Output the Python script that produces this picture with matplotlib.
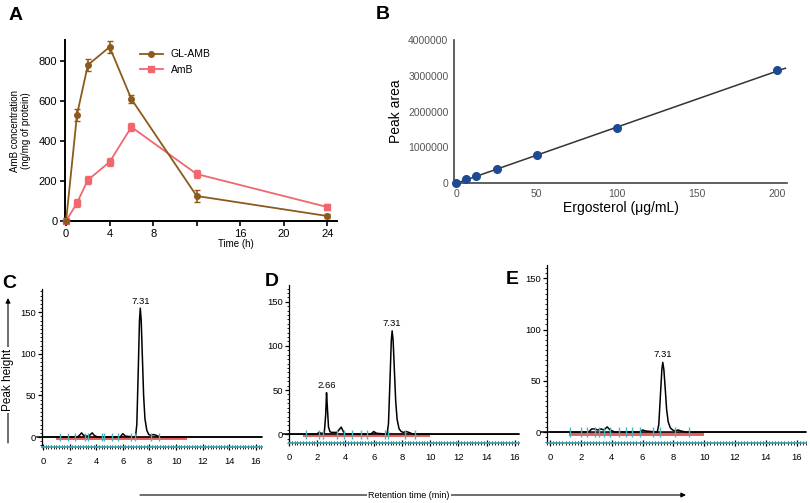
import matplotlib

matplotlib.use("Agg")
import matplotlib.pyplot as plt
import numpy as np
from matplotlib.lines import Line2D
from matplotlib.ticker import MultipleLocator

plt.rcParams["font.family"] = ["Liberation Sans", "DejaVu Sans"]

W, H = 810, 503

# --- A: AmB concentration over time
TIME_H = [0, 1, 2, 4, 6, 12, 24]
GL_AMB = [0, 530, 780, 870, 610, 125, 25]
GL_AMB_ERR = [0, 30, 28, 30, 22, 30, 8]
AMB = [0, 90, 205, 295, 470, 235, 70]
AMB_ERR = [0, 18, 18, 22, 20, 22, 15]
A_XTICKS = [0, 4, 8, 12, 16, 20, 24]
A_XLABELS = ["0", "4", "8", "", "16", "20", "24"]

# --- B: ergosterol calibration
ERGO_CONC = [0, 6.25, 12.5, 25, 50, 100, 200]
ERGO_AREA = [0, 100000, 190000, 390000, 770000, 1530000, 3150000]

# --- C, D, E: chromatograms (time in min, height)
C_TIME = [0, 2.6, 2.8, 2.9, 3.05, 3.3, 3.5, 3.7, 3.85, 4.1, 5.8, 6.0, 6.2, 6.95,
          7.05, 7.15, 7.25, 7.31, 7.38, 7.47, 7.56, 7.66, 7.8, 7.95, 8.1, 8.3, 8.5, 8.8, 16.5]
C_HEIGHT = [0, 0, 3, 5, 2, 1, 2, 5, 2, 0, 0, 4, 1, 0,
            15, 75, 140, 155, 140, 95, 50, 22, 8, 3, 2, 3, 2, 0, 0]
C_BASELINE = [1.0, 10.8]
C_MARKS = [1.27, 1.87, 2.4, 3.13, 3.36, 4.4, 4.6, 5.15, 5.6, 6.6, 6.9, 8.1, 8.7]

D_TIME = [0, 2.0, 2.1, 2.3, 2.5, 2.6, 2.66, 2.72, 2.8, 2.9, 3.0, 3.4, 3.6, 3.7,
          3.85, 4.0, 5.8, 6.0, 6.2, 6.95, 7.05, 7.15, 7.25, 7.31, 7.38, 7.47, 7.56,
          7.66, 7.8, 7.95, 8.1, 8.3, 8.5, 8.8, 16.5]
D_HEIGHT = [0, 0, 2, 1, 1, 22, 47, 30, 8, 3, 2, 2, 6, 8,
            3, 0, 0, 3, 1, 0, 12, 58, 106, 117, 106, 72, 38,
            17, 6, 3, 2, 3, 2, 0, 0]
D_BASELINE = [1.0, 10.0]
D_MARKS = [1.2, 2.1, 2.4, 3.4, 3.9, 4.5, 5.1, 5.5, 6.8, 7.0, 8.2, 8.9]

E_TIME = [0, 2.5, 2.7, 2.9, 3.1, 3.3, 3.5, 3.7, 3.9, 4.2, 5.8, 6.0, 6.2, 6.95,
          7.05, 7.15, 7.25, 7.31, 7.38, 7.47, 7.56, 7.66, 7.8, 7.95, 8.1, 8.3, 8.5, 8.8, 16.6]
E_HEIGHT = [0, 0, 3, 3, 2, 3, 2, 5, 2, 0, 0, 2, 1, 0,
            7, 34, 61, 68, 61, 42, 22, 10, 4, 2, 1, 2, 1, 0, 0]
E_BASELINE = [1.2, 10.0]
E_MARKS = [1.3, 2.0, 2.4, 2.9, 3.2, 3.5, 3.9, 4.5, 4.9, 5.3, 5.8, 6.7, 7.1, 8.1, 9.0]

PEAK_LABELS_C = [(7.31, 155)]
PEAK_LABELS_D = [(2.66, 47), (7.31, 117)]
PEAK_LABELS_E = [(7.31, 68)]

BROWN = "#8c5a1c"
PINK = "#f0686e"


def px_axes(fig, left, top, right, bottom, **kw):
    return fig.add_axes([left / W, 1 - bottom / H, (right - left) / W, (bottom - top) / H], **kw)


def panel_a(ax):
    ax.errorbar(TIME_H, GL_AMB, yerr=GL_AMB_ERR, color=BROWN, marker="o", ms=4,
                lw=1.3, capsize=2.5, elinewidth=1.2, clip_on=False, zorder=4)
    ax.errorbar(TIME_H, AMB, yerr=AMB_ERR, color=PINK, marker="s", ms=4.5,
                lw=1.3, capsize=2.5, elinewidth=1.2, clip_on=False, zorder=3)
    ax.set_xlim(-0.1, 24.9)
    ax.set_ylim(0, 905)
    ax.set_xticks(A_XTICKS, A_XLABELS)
    ax.set_yticks([0, 200, 400, 600, 800])
    ax.tick_params(labelsize=8, width=1.2, length=3.5, pad=2)
    for side in ("top", "right"):
        ax.spines[side].set_visible(False)
    for side in ("left", "bottom"):
        ax.spines[side].set_linewidth(1.4)
    ax.set_ylabel("AmB concentration\n(ng/mg of protein)", fontsize=7, labelpad=6, linespacing=1.1)
    ax.set_xlabel("Time (h)", fontsize=7)
    ax.xaxis.set_label_coords(0.63, -0.1)
    handles = [Line2D([], [], color=BROWN, marker="o", ms=4, lw=1.3),
               Line2D([], [], color=PINK, marker="s", ms=4.5, lw=1.3)]
    ax.legend(handles, ["GL-AMB", "AmB"], loc="upper left", bbox_to_anchor=(0.24, 1.0),
              fontsize=7.5, frameon=False, handlelength=2.2, labelspacing=0.5)


def panel_b(ax):
    ax.plot(ERGO_CONC, ERGO_AREA, "o", color="#1d4a93", ms=5.5, zorder=4, clip_on=False)
    slope, icpt = np.polyfit(ERGO_CONC, ERGO_AREA, 1)
    x0 = -icpt / slope
    xs = np.array([max(x0, 0), 205])
    ax.plot(xs, slope * xs + icpt, color="#333333", lw=1.1, zorder=3)
    ax.set_xlim(-1.5, 206)
    ax.set_ylim(0, 4000000)
    ax.set_xticks([0, 50, 100, 150, 200])
    ax.set_yticks([0, 1000000, 2000000, 3000000, 4000000])
    ax.yaxis.set_major_formatter(matplotlib.ticker.FuncFormatter(lambda v, p: f"{int(v)}"))
    ax.tick_params(length=0, labelsize=7.5, labelcolor="#555555", pad=4)
    for side in ("top", "right"):
        ax.spines[side].set_visible(False)
    for side in ("left", "bottom"):
        ax.spines[side].set_color("#444444")
        ax.spines[side].set_linewidth(1.2)
    ax.set_ylabel("Peak area", fontsize=10, labelpad=4)
    ax.set_xlabel("Ergosterol (\u03bcg/mL)", fontsize=10, labelpad=2)


def chromatogram(ax, t, h, base, marks, peaks, ylim, xlim):
    ax.plot(base, [-1.5, -1.5], color="#e8403f", lw=2.8, alpha=0.85, zorder=2, solid_capstyle="butt")
    ax.plot(t, h, color="black", lw=1.1, zorder=3)
    ax.plot([xlim[0] - 0.4, xlim[1]], [0, 0], color="black", lw=1.1, zorder=3, clip_on=False)
    ax.vlines(marks, -5, 5, color="#4bb4be", lw=1.0, zorder=4)
    for pt, ph in peaks:
        ax.text(pt, ph + 3, f"{pt:.2f}", ha="center", va="bottom", fontsize=6.8)
    ax.set_xlim(*xlim)
    ax.set_ylim(*ylim)
    ax.set_xticks(range(0, 17, 2))
    ax.set_yticks([0, 50, 100, 150])
    ax.xaxis.set_minor_locator(MultipleLocator(0.2))
    ax.yaxis.set_minor_locator(MultipleLocator(5))
    ax.tick_params(axis="x", which="major", direction="inout", length=4, width=0.9, labelsize=6.8, pad=5)
    ax.tick_params(axis="x", which="minor", direction="inout", length=3, width=0.6)
    ax.tick_params(axis="y", which="major", direction="out", length=3, width=0.9, labelsize=6.8, pad=1.5)
    ax.tick_params(axis="y", which="minor", direction="out", length=1.8, width=0.6)
    for side in ("top", "right"):
        ax.spines[side].set_visible(False)
    ax.spines["left"].set_linewidth(0.9)
    ax.spines["bottom"].set_color("#3aa6b0")
    ax.spines["bottom"].set_linewidth(1.3)


def main():
    fig = plt.figure(figsize=(W / 100, H / 100), dpi=100)
    fig.patch.set_facecolor("white")

    panel_a(px_axes(fig, 65, 40, 337, 221))
    panel_b(px_axes(fig, 454, 40, 787, 183))
    chromatogram(px_axes(fig, 42, 289, 262, 447), C_TIME, C_HEIGHT, C_BASELINE, C_MARKS,
                 PEAK_LABELS_C, (-12, 178), (-0.07, 16.45))
    chromatogram(px_axes(fig, 289, 285, 519, 443), D_TIME, D_HEIGHT, D_BASELINE, D_MARKS,
                 PEAK_LABELS_D, (-10, 169), (0, 16.3))
    chromatogram(px_axes(fig, 547, 265, 806, 443), E_TIME, E_HEIGHT, E_BASELINE, E_MARKS,
                 PEAK_LABELS_E, (-10.7, 163), (-0.2, 16.6))

    # overlay in pixel coordinates for letters and arrow labels
    ov = fig.add_axes([0, 0, 1, 1], zorder=10)
    ov.set_xlim(0, W)
    ov.set_ylim(H, 0)
    ov.axis("off")
    ov.patch.set_alpha(0)
    for letter, x, y in [("A", 16, 15), ("B", 383, 14), ("C", 9, 283), ("D", 272, 282), ("E", 512, 280)]:
        ov.text(x, y, letter, fontsize=14, fontweight="bold", ha="center", va="center")

    arrow = dict(arrowstyle="-|>", color="black", lw=0.8, mutation_scale=7, shrinkA=0, shrinkB=0)
    ov.annotate("", xy=(8, 298), xytext=(8, 443), arrowprops=arrow)
    ov.text(8, 380, "Peak height", rotation=90, ha="center", va="center", fontsize=8.5,
            bbox=dict(fc="white", ec="none", pad=1.5))
    ov.annotate("", xy=(686, 495), xytext=(140, 495), arrowprops=arrow)
    ov.text(409, 495, "Retention time (min)", ha="center", va="center", fontsize=6.5,
            bbox=dict(fc="white", ec="none", pad=0.8))

    fig.savefig("out.png", dpi=100)


if __name__ == "__main__":
    main()
